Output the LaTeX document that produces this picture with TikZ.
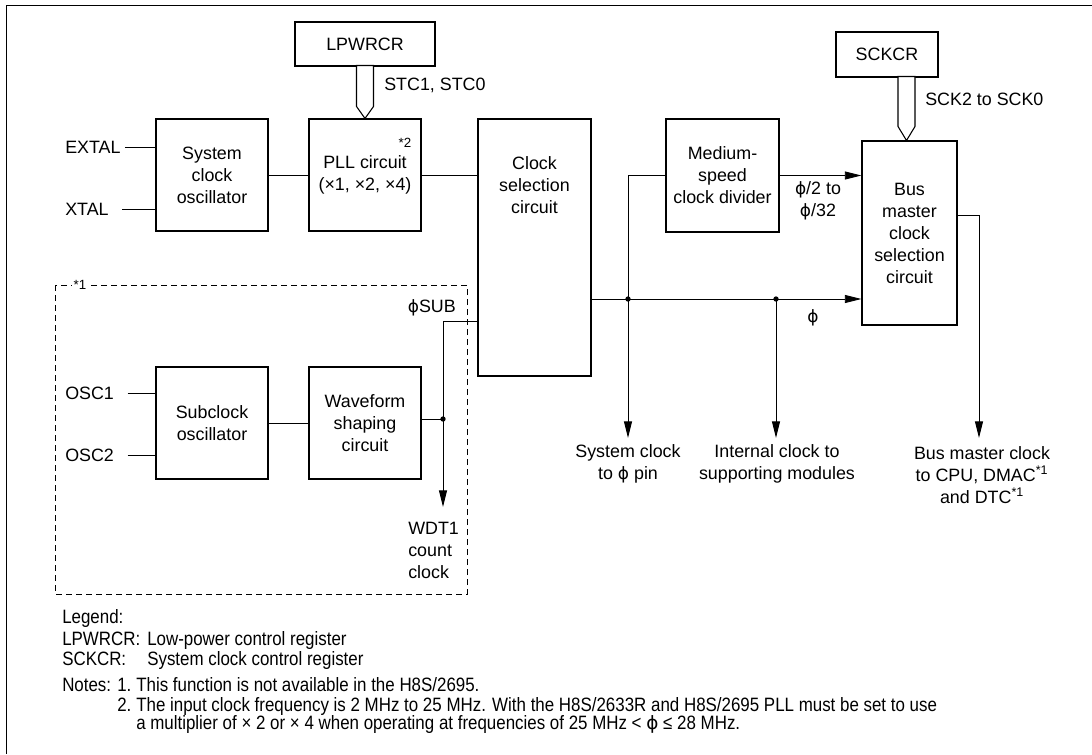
\documentclass[tikz,border=0pt]{standalone}
\usepackage{fontspec}
\setmainfont{Liberation Sans}
\newfontfamily\notefont[FakeStretch=0.875]{Liberation Sans}
\newfontfamily\phifont[Scale=0.95]{DejaVu Sans}
\newcommand{\ph}{{\phifont ϕ}}
\usetikzlibrary{arrows.meta}

\begin{document}
\begin{tikzpicture}[x=0.75pt,y=-0.75pt,
  box/.style={draw,line width=0.8pt,inner sep=0pt,align=center,font=\fontsize{13.4}{16.5}\selectfont},
  txt/.style={inner sep=0pt,align=center,font=\fontsize{13.4}{16.5}\selectfont},
  note/.style={inner sep=0pt,anchor=base west,font=\notefont\fontsize{14.5}{17}\selectfont},
  sig/.style={line width=0.7pt},
  arr/.style={sig,-{Triangle[length=12.5pt,width=6pt]}},
  dot/.style={circle,fill,inner sep=0pt,minimum size=4pt}]
\useasboundingbox (0,0) rectangle (1092,754);
\draw[line width=1.3pt] (1092,5.5) -- (6.5,5.5) -- (6.5,754);

% blocks
\node[box,minimum width=105pt,minimum height=33pt] (lp) at (365,44) {LPWRCR};
\node[box,minimum width=76.5pt,minimum height=33.75pt] (sck) at (887,54.5) {SCKCR};
\node[box,minimum width=84pt,minimum height=84pt] (osc) at (212,175) {System\\clock\\oscillator};
\node[box,minimum width=84pt,minimum height=84pt] (pll) at (365,175) {PLL circuit\\(×1, ×2, ×4)};
\node[box,minimum width=84.75pt,minimum height=192.75pt] (sel) at (534.5,247.5) {};
\node[txt] (seltxt) at (534.5,185) {Clock\\selection\\circuit};
\node[box,minimum width=84.75pt,minimum height=84.75pt] (md) at (722.5,175.5) {Medium-\\speed\\clock divider};
\node[box,minimum width=71.25pt,minimum height=138pt] (bm) at (909.5,233) {Bus\\master\\clock\\selection\\circuit};
\node[box,minimum width=84pt,minimum height=84pt] (sub) at (212,423) {Subclock\\oscillator};
\node[box,minimum width=84pt,minimum height=84pt] (wave) at (365,423) {Waveform\\shaping\\circuit};
\node[txt,font=\fontsize{10}{12}\selectfont] (n2) at (405,143) {*2};

% register arrows
\draw[line width=0.8pt,fill=white] (pll.north) -- ++(-8.5,-12) -- ++(0,-41) -- ++(17,0) -- ++(0,41) -- cycle;
\draw[line width=0.8pt,fill=white] ([xshift=-2.25pt]bm.north) -- ++(-8.5,-14) -- ++(0,-50) -- ++(17,0) -- ++(0,50) -- cycle;
\node[txt,anchor=west] (stc) at (384,85) {STC1, STC0};
\node[txt,anchor=west] (sckb) at (925,99) {SCK2 to SCK0};

% pins
\foreach \n/\t/\y in {pex/EXTAL/147,pxt/XTAL/209,pos1/OSC1/393,pos2/OSC2/455}
  {\node[txt,anchor=west] (\n) at (65,\y) {\t};}
\draw[sig] ([xshift=3pt]pex.east) -- (pex.east -| osc.west);
\draw[sig] ([xshift=10pt]pxt.east) -- (pxt.east -| osc.west);
\draw[sig] ([xshift=10pt]pos1.east) -- (pos1.east -| sub.west);
\draw[sig] ([xshift=10pt]pos2.east) -- (pos2.east -| sub.west);

% clock paths
\coordinate (j1) at (628,299); \coordinate (j2) at (776,299);
\coordinate (o1) at (628,438); \coordinate (o2) at (776,438); \coordinate (o3) at (979,438);
\coordinate (sb) at (443,321); \coordinate (wj) at (443,419); \coordinate (wdt) at (443,507);
\draw[sig] (osc) -- (pll);
\draw[sig] (pll.east) -- (pll.east -| sel.west);
\draw[arr] (j1 -| sel.east) -- (j1 -| bm.west);
\draw[arr] (md.west) -| (o1);
\draw[arr] (j2) -- (o2);
\draw[arr] (md.east) -- (md.east -| bm.west);
\draw[arr] ([yshift=13.5pt]bm.east) -| (o3);
\draw[sig] (sub) -- (wave);
\draw[arr] (sb -| sel.west) -- (sb) -- (wdt);
\draw[sig] (wave.east |- wj) -- (wj);
\foreach \p in {j1,j2,wj} {\node[dot] at (\p) {};}

% signal labels
\node[txt,anchor=east] (phisub) at (456,308) {\ph SUB};
\node[txt] (phidiv) at (818,201) {\ph/2 to\\\ph/32};
\node[txt] (phi) at (813,318) {\ph};
\node[txt,align=left,anchor=north west] (wdtl) at (408,522) {WDT1\\count\\clock};
\node[txt] (l1) at (628,464) {System clock\\to \ph\ pin};
\node[txt] (l2) at (777,464) {Internal clock to\\supporting modules};
\node[txt] (l3) at (982,475) {Bus master clock\\to CPU, DMAC\textsuperscript{*1}\\and DTC\textsuperscript{*1}};

% dashed area
\draw[line width=0.7pt,dash pattern=on 4.5pt off 3pt] (55,285) rectangle (467,594);
\node[txt,fill=white,inner sep=1pt,font=\fontsize{10}{12}\selectfont] (n1) at (80,285) {*1};

% legend and notes
\node[note] (lg) at (62,623) {Legend:};
\foreach \y/\a/\b in {645/LPWRCR:/Low-power control register,665/SCKCR:/System clock control register}
  {\node[note] (ka\y) at (62,\y) {\a}; \node[note] (kb\y) at (147,\y) {\b};}
\node[note] (nt) at (62,691) {Notes:};
\node[note] (nt1) at (117,691) {1.};
\node[note] (nt1b) at (136,691) {This function is not available in the H8S/2695.};
\node[note] (nt2) at (117,711) {2.};
\node[note] (nt2b) at (136,711) {The input clock frequency is 2 MHz to 25 MHz. With the H8S/2633R and H8S/2695 PLL must be set to use};
\node[note] (nt2c) at (136,729) {a multiplier of × 2 or × 4 when operating at frequencies of 25 MHz < \ph\ ≤ 28 MHz.};
\end{tikzpicture}
\end{document}
